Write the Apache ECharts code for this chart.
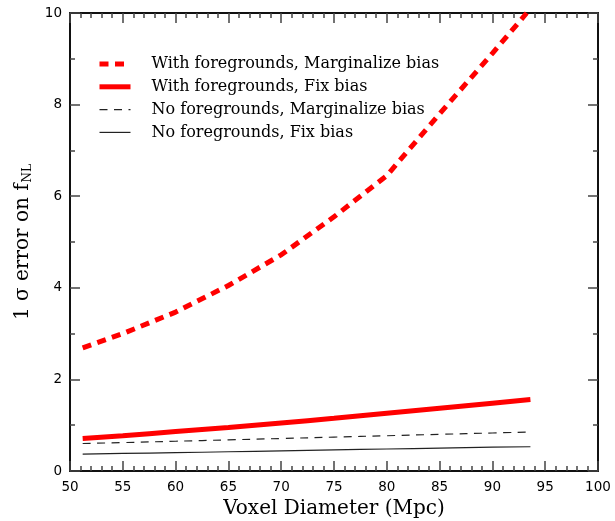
<!DOCTYPE html>
<html>
<head>
<meta charset="utf-8">
<script src="https://cdn.jsdelivr.net/npm/echarts@6/dist/echarts.min.js"></script>
<style>html,body{margin:0;padding:0;background:#fff;}#c{width:615px;height:521px;}</style>
</head>
<body>
<div id="c"></div>
<script>
const seriesNames = [
  'With foregrounds, Marginalize bias',
  'With foregrounds, Fix bias',
  'No foregrounds, Marginalize bias',
  'No foregrounds, Fix bias'
];
const xRedDash = [51.2, 55, 60, 65, 70, 75, 80, 85, 90, 93.25];
const yRedDash = [2.69, 3.0, 3.47, 4.05, 4.72, 5.55, 6.45, 7.8, 9.12, 10.0];
const xOther = [51.2, 55, 60, 65, 70, 75, 80, 85, 90, 93.6];
const yRedSolid = [0.71, 0.77, 0.86, 0.95, 1.05, 1.15, 1.26, 1.37, 1.48, 1.56];
const yBlackDash = [0.60, 0.62, 0.65, 0.68, 0.71, 0.74, 0.77, 0.80, 0.83, 0.85];
const yBlackSolid = [0.37, 0.385, 0.40, 0.42, 0.44, 0.46, 0.48, 0.50, 0.52, 0.53];
const xTicks = [50, 55, 60, 65, 70, 75, 80, 85, 90, 95, 100];
const yTicks = [0, 2, 4, 6, 8, 10];

const pairs = (xs, ys) => xs.map((x, i) => [x, ys[i]]);
const serif = 'DejaVu Serif';
const sans = 'DejaVu Sans';
const tickStyle = { color: '#444', width: 1.5 };
const redDash = [9, 6.5];
const blackDash = [8, 6.5];

const frameAxis = (extra) => Object.assign({
  type: 'value',
  axisLine: { show: true, onZero: false, lineStyle: { color: '#111', width: 2 } },
  axisTick: { show: true, inside: true, length: 10, lineStyle: tickStyle },
  splitLine: { show: false },
  minorSplitLine: { show: false }
}, extra);

const chart = echarts.init(document.getElementById('c'), null, { renderer: 'canvas' });
chart.setOption({
  backgroundColor: '#fff',
  animation: false,
  grid: { left: 70, right: 17, top: 13, bottom: 50, containLabel: false, outerBoundsMode: 'none' },
  legend: {
    orient: 'vertical',
    left: 92,
    top: 51,
    itemWidth: 31,
    itemHeight: 14,
    itemGap: 6.8,
    data: [
      { name: seriesNames[0], lineStyle: { width: 5, type: redDash, color: '#ff0000' } },
      { name: seriesNames[1], lineStyle: { width: 5, type: 'solid', color: '#ff0000' } },
      { name: seriesNames[2], lineStyle: { width: 1.2, type: blackDash, color: '#222' } },
      { name: seriesNames[3], lineStyle: { width: 1.2, type: 'solid', color: '#222' } }
    ],
    itemStyle: { opacity: 0 },
    textStyle: { fontFamily: serif, fontSize: 16, lineHeight: 16, color: '#000', padding: [0, 0, 0, 16] }
  },
  xAxis: [
    frameAxis({
      position: 'bottom', min: 50, max: 100, interval: 5,
      minorTick: { show: true, splitNumber: 5, length: 5, lineStyle: tickStyle },
      axisLabel: { show: true, fontFamily: sans, fontSize: 13.5, color: '#000', margin: 9,
        formatter: v => xTicks.includes(v) ? String(v) : '' },
      name: 'Voxel Diameter (Mpc)', nameLocation: 'middle', nameGap: 26,
      nameTextStyle: { fontFamily: serif, fontSize: 20, color: '#000', verticalAlign: 'top' }
    }),
    frameAxis({
      position: 'top', min: 50, max: 100, interval: 5,
      minorTick: { show: true, splitNumber: 5, length: 5, lineStyle: tickStyle },
      axisLabel: { show: false }
    })
  ],
  yAxis: [
    frameAxis({
      position: 'left', min: 0, max: 10, interval: 2,
      minorTick: { show: true, splitNumber: 2, length: 5, lineStyle: tickStyle },
      axisLabel: { show: true, fontFamily: sans, fontSize: 13.5, color: '#000', margin: 8,
        formatter: v => yTicks.includes(v) ? String(v) : '' },
      name: '{a|1 σ error on f}{s|NL}', nameLocation: 'middle', nameGap: 36,
      nameTextStyle: { fontFamily: serif, fontSize: 20, color: '#000',
        rich: {
          a: { fontFamily: serif, fontSize: 20, color: '#000' },
          s: { fontFamily: serif, fontSize: 12, color: '#000', padding: [10, 0, 0, 1] }
        } }
    }),
    frameAxis({
      position: 'right', min: 0, max: 10, interval: 2,
      minorTick: { show: true, splitNumber: 2, length: 5, lineStyle: tickStyle },
      axisLabel: { show: false }
    })
  ],
  series: [
    { name: seriesNames[0], type: 'line', data: pairs(xRedDash, yRedDash), symbol: 'none', smooth: false, clip: true,
      color: '#ff0000', lineStyle: { color: '#ff0000', width: 5, type: redDash, cap: 'butt' } },
    { name: seriesNames[1], type: 'line', data: pairs(xOther, yRedSolid), symbol: 'none', smooth: true, clip: true,
      color: '#ff0000', lineStyle: { color: '#ff0000', width: 5, type: 'solid', cap: 'butt' } },
    { name: seriesNames[2], type: 'line', data: pairs(xOther, yBlackDash), symbol: 'none', smooth: true, clip: true,
      color: '#222', lineStyle: { color: '#222', width: 1.2, type: blackDash, cap: 'butt' } },
    { name: seriesNames[3], type: 'line', data: pairs(xOther, yBlackSolid), symbol: 'none', smooth: true, clip: true,
      color: '#222', lineStyle: { color: '#222', width: 1.2, type: 'solid', cap: 'butt' } }
  ]
});
</script>
</body>
</html>
